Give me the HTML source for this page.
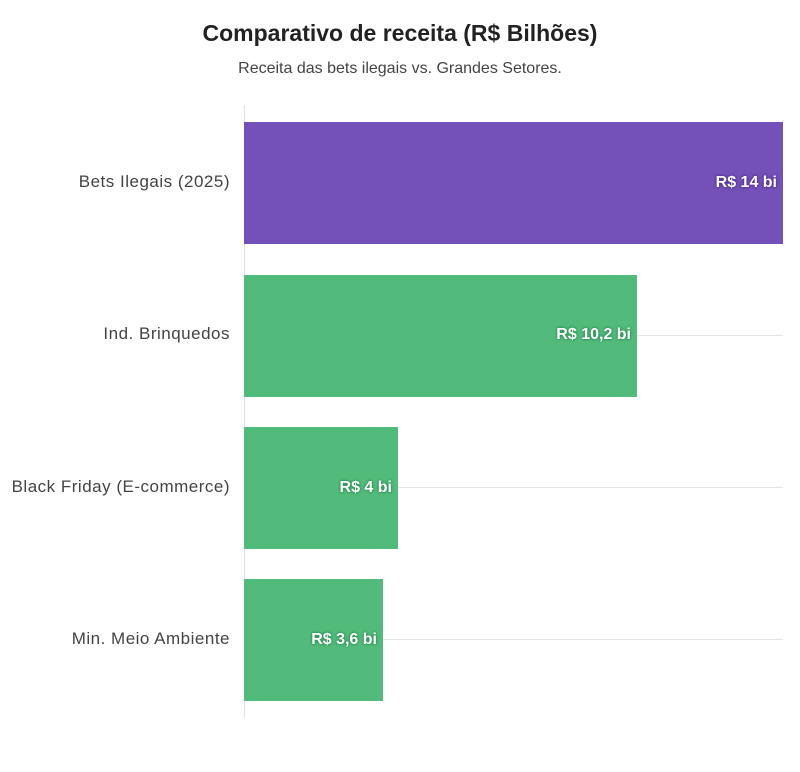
<!DOCTYPE html>
<html><head><meta charset="utf-8"><style>
body{margin:0;width:800px;height:772px;background:#fff;font-family:"Liberation Sans",sans-serif;position:relative;overflow:hidden}
.t{position:absolute;left:0;width:800px;text-align:center}
.bar{position:absolute;left:244px;height:122px}
.lab{position:absolute;width:240px;text-align:right;font-size:17px;color:#444;letter-spacing:0.5px}
.v{position:absolute;font-size:16px;font-weight:bold;color:#fff;text-align:right}
.g{position:absolute;left:244px;width:539px;height:1px;background:#e6e6e6}
</style></head><body>
<div class="t" style="top:20px;font-size:23px;font-weight:bold;color:#222">Comparativo de receita (R$ Bilhões)</div>
<div class="t" style="top:60px;font-size:16px;color:#444">Receita das bets ilegais vs. Grandes Setores.</div>
<div style="position:absolute;left:244px;top:105px;width:1px;height:613px;background:#e0e0e0"></div>
<div class="g" style="top:183px"></div><div class="g" style="top:335px"></div><div class="g" style="top:487px"></div><div class="g" style="top:639px"></div>
<div class="bar" style="top:122px;width:539px;background:#7451b8"></div>
<div class="bar" style="top:275px;width:393px;background:#52bb7b"></div>
<div class="bar" style="top:427px;width:154px;background:#52bb7b"></div>
<div class="bar" style="top:579px;width:139px;background:#52bb7b"></div>
<div class="lab" style="top:172px;left:-10px">Bets Ilegais (2025)</div>
<div class="lab" style="top:324px;left:-10px">Ind. Brinquedos</div>
<div class="lab" style="top:477px;left:-10px">Black Friday (E-commerce)</div>
<div class="lab" style="top:629px;left:-10px">Min. Meio Ambiente</div>
<div class="v" style="top:174px;left:600px;width:177px;text-shadow:0 0 3px #4a2d8a,0 0 2px #4a2d8a">R$ 14 bi</div>
<div class="v" style="top:326px;left:450px;width:181px;text-shadow:0 0 3px #2a8a50,0 0 2px #2a8a50">R$ 10,2 bi</div>
<div class="v" style="top:479px;left:250px;width:142px;text-shadow:0 0 3px #2a8a50,0 0 2px #2a8a50">R$ 4 bi</div>
<div class="v" style="top:631px;left:250px;width:127px;text-shadow:0 0 3px #2a8a50,0 0 2px #2a8a50">R$ 3,6 bi</div>
</body></html>
